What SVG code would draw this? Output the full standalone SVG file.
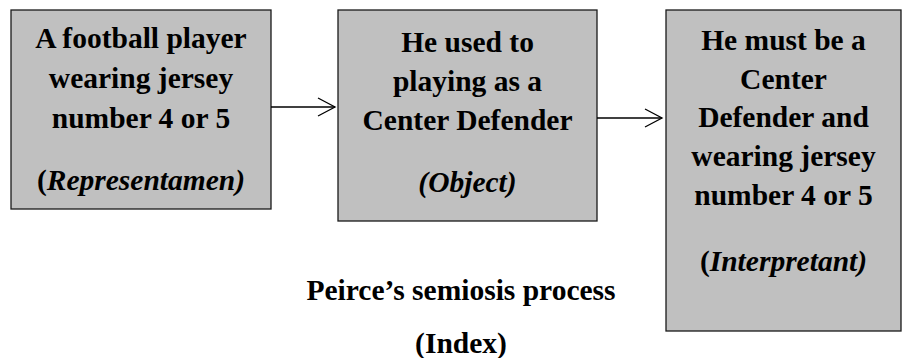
<svg xmlns="http://www.w3.org/2000/svg" width="904" height="358" viewBox="0 0 904 358">
<defs>
<style>
.box{fill:#c0c0c0;stroke:#1a1a1a;stroke-width:1.3}
.t{font-family:"Liberation Serif","Times New Roman",serif;font-weight:bold;font-size:29.5px;fill:#000;text-anchor:middle}
.i{font-style:italic}
.con{stroke:#000;stroke-width:1.3;fill:none}
</style>
<marker id="arr" markerWidth="20" markerHeight="22" refX="18" refY="10" orient="auto" markerUnits="userSpaceOnUse">
<path d="M1,1 L18,10 L1,19" fill="none" stroke="#000" stroke-width="1.3"/>
</marker>
</defs>
<rect width="904" height="358" fill="#fff"/>
<g id="representamen">
<rect class="box" x="11" y="10" width="260" height="199"/>
<text class="t" x="141" y="48">A football player</text>
<text class="t" x="141" y="88">wearing jersey</text>
<text class="t" x="141" y="128">number 4 or 5</text>
<text class="t" x="141" y="190">(<tspan class="i">Representamen)</tspan></text>
</g>
<g id="object">
<rect class="box" x="338" y="10" width="259" height="211"/>
<text class="t" x="467.5" y="52">He used to</text>
<text class="t" x="467.5" y="91">playing as a</text>
<text class="t" x="467.5" y="130">Center Defender</text>
<text class="t i" x="467.5" y="192">(Object)</text>
</g>
<g id="interpretant">
<rect class="box" x="666" y="10" width="235" height="321"/>
<text class="t" x="783.5" y="50">He must be a</text>
<text class="t" x="783.5" y="89">Center</text>
<text class="t" x="783.5" y="127">Defender and</text>
<text class="t" x="783.5" y="166">wearing jersey</text>
<text class="t" x="783.5" y="205">number 4 or 5</text>
<text class="t" x="783.5" y="271">(<tspan class="i">Interpretant)</tspan></text>
</g>
<g id="connectors">
<line class="con" x1="271" y1="107" x2="335" y2="107" marker-end="url(#arr)"/>
<line class="con" x1="597" y1="118" x2="662" y2="118" marker-end="url(#arr)"/>
</g>
<g id="caption">
<text class="t" x="461" y="300">Peirce’s semiosis process</text>
<text class="t" x="461" y="353">(Index)</text>
</g>
</svg>
